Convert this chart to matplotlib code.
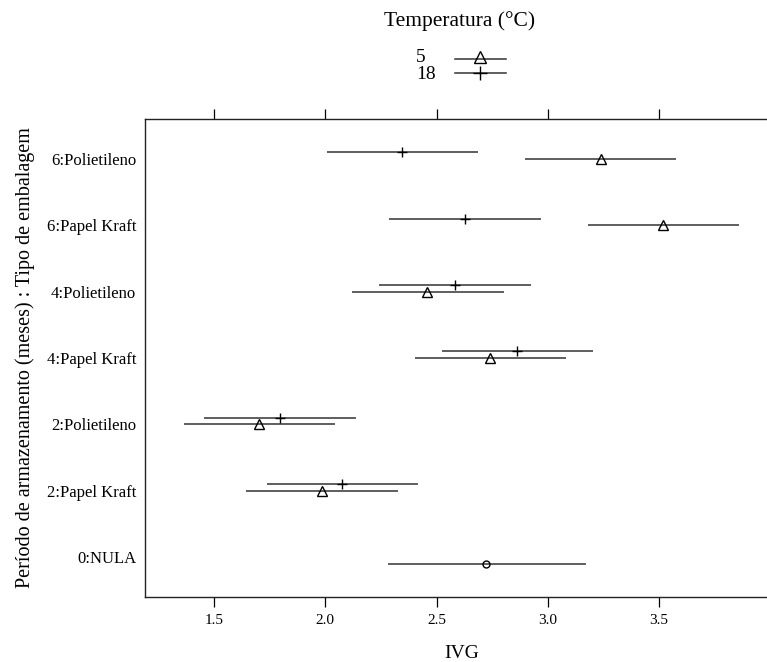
import matplotlib.pyplot as plt
from matplotlib.lines import Line2D
import numpy as np

plt.rcParams['font.family'] = ['Liberation Serif', 'DejaVu Serif']

# tratamentos (de baixo para cima)
rotulos = ['0:NULA', '2:Papel Kraft', '2:Polietileno', '4:Papel Kraft',
           '4:Polietileno', '6:Papel Kraft', '6:Polietileno']

# 5 °C (linhas 2..7)
ivg_5 = [1.985, 1.702, 2.741, 2.459, 3.520, 3.239]
inf_5 = [1.644, 1.363, 2.401, 2.118, 3.179, 2.896]
sup_5 = [2.325, 2.044, 3.082, 2.801, 3.860, 3.577]

# 18 °C (linhas 2..7)
ivg_18 = [2.077, 1.794, 2.862, 2.583, 2.628, 2.345]
inf_18 = [1.736, 1.455, 2.523, 2.242, 2.287, 2.006]
sup_18 = [2.417, 2.136, 3.205, 2.923, 2.968, 2.686]

# sem armazenamento
ivg_nula = [2.723]
inf_nula = [2.280]
sup_nula = [3.170]

W, H = 767, 662
fig = plt.figure(figsize=(W / 100, H / 100), dpi=100)
ax = fig.add_axes([144.7 / W, 1 - 596.7 / H, (778 - 144.7) / W, (596.7 - 119.3) / H])

cor_barra = '#333333'
y = np.arange(1, len(rotulos) + 1)
y5 = y[1:]
y18 = y[1:] + 0.1
ynula = y[:1] - 0.1

ax.hlines(y5, inf_5, sup_5, color=cor_barra, lw=1.1)
ax.hlines(y18, inf_18, sup_18, color=cor_barra, lw=1.1)
ax.hlines(ynula, inf_nula, sup_nula, color=cor_barra, lw=1.1)
ax.plot(ivg_5, y5, ls='none', marker='^', ms=6.5, mfc='none', mec='black', mew=1.0)
ax.plot(ivg_18, y18, ls='none', marker='+', ms=7.5, mec='black', mew=1.0)
ax.plot(ivg_nula, ynula, ls='none', marker='o', ms=5, mfc='none', mec='black', mew=1.0)

ax.set_xlim(1.188, 4.035)
ax.set_ylim(0.4, 7.6)
ax.set_xticks([1.5, 2.0, 2.5, 3.0, 3.5])
ax.set_yticks(y)
ax.set_yticklabels(rotulos, fontsize=12)
ax.tick_params(axis='x', direction='out', length=7.2, width=0.9, labelsize=11,
               top=True, labeltop=False, pad=5, colors='black')
ax.tick_params(axis='y', length=0, pad=6)
for s in ax.spines.values():
    s.set_linewidth(1.0)
    s.set_color('#222222')

ax.set_xlabel('IVG', fontsize=14)
ax.xaxis.set_label_coords(0.5, -0.118)
ax.xaxis.label.set_va('center')
ax.set_ylabel('Período de armazenamento (meses) : Tipo de embalagem', fontsize=14.5)
ax.yaxis.set_label_coords((25 - 144.7) / (778 - 144.7), 0.5)
ax.yaxis.label.set_va('center')

# legenda no topo
def fx(px):
    return px / W

def fy(py):
    return 1 - py / H

fig.text(fx(460), fy(20.7), 'Temperatura (°C)', ha='center', va='center', fontsize=15.5)
fig.text(fx(416), fy(57), '5', ha='left', va='center', fontsize=14)
fig.text(fx(416), fy(74.5), '18', ha='left', va='center', fontsize=14)
fig.add_artist(Line2D([fx(455), fx(506)], [fy(59), fy(59)], color=cor_barra, lw=1.1))
fig.add_artist(Line2D([fx(455), fx(506)], [fy(72.7), fy(72.7)], color=cor_barra, lw=1.1))
fig.add_artist(Line2D([fx(480)], [fy(57)], marker='^', ms=8.5, mfc='none', mec='black', mew=1.0))
fig.add_artist(Line2D([fx(480)], [fy(72.7)], marker='+', ms=10, mec='black', mew=1.0))

fig.savefig('out.png', dpi=100)
